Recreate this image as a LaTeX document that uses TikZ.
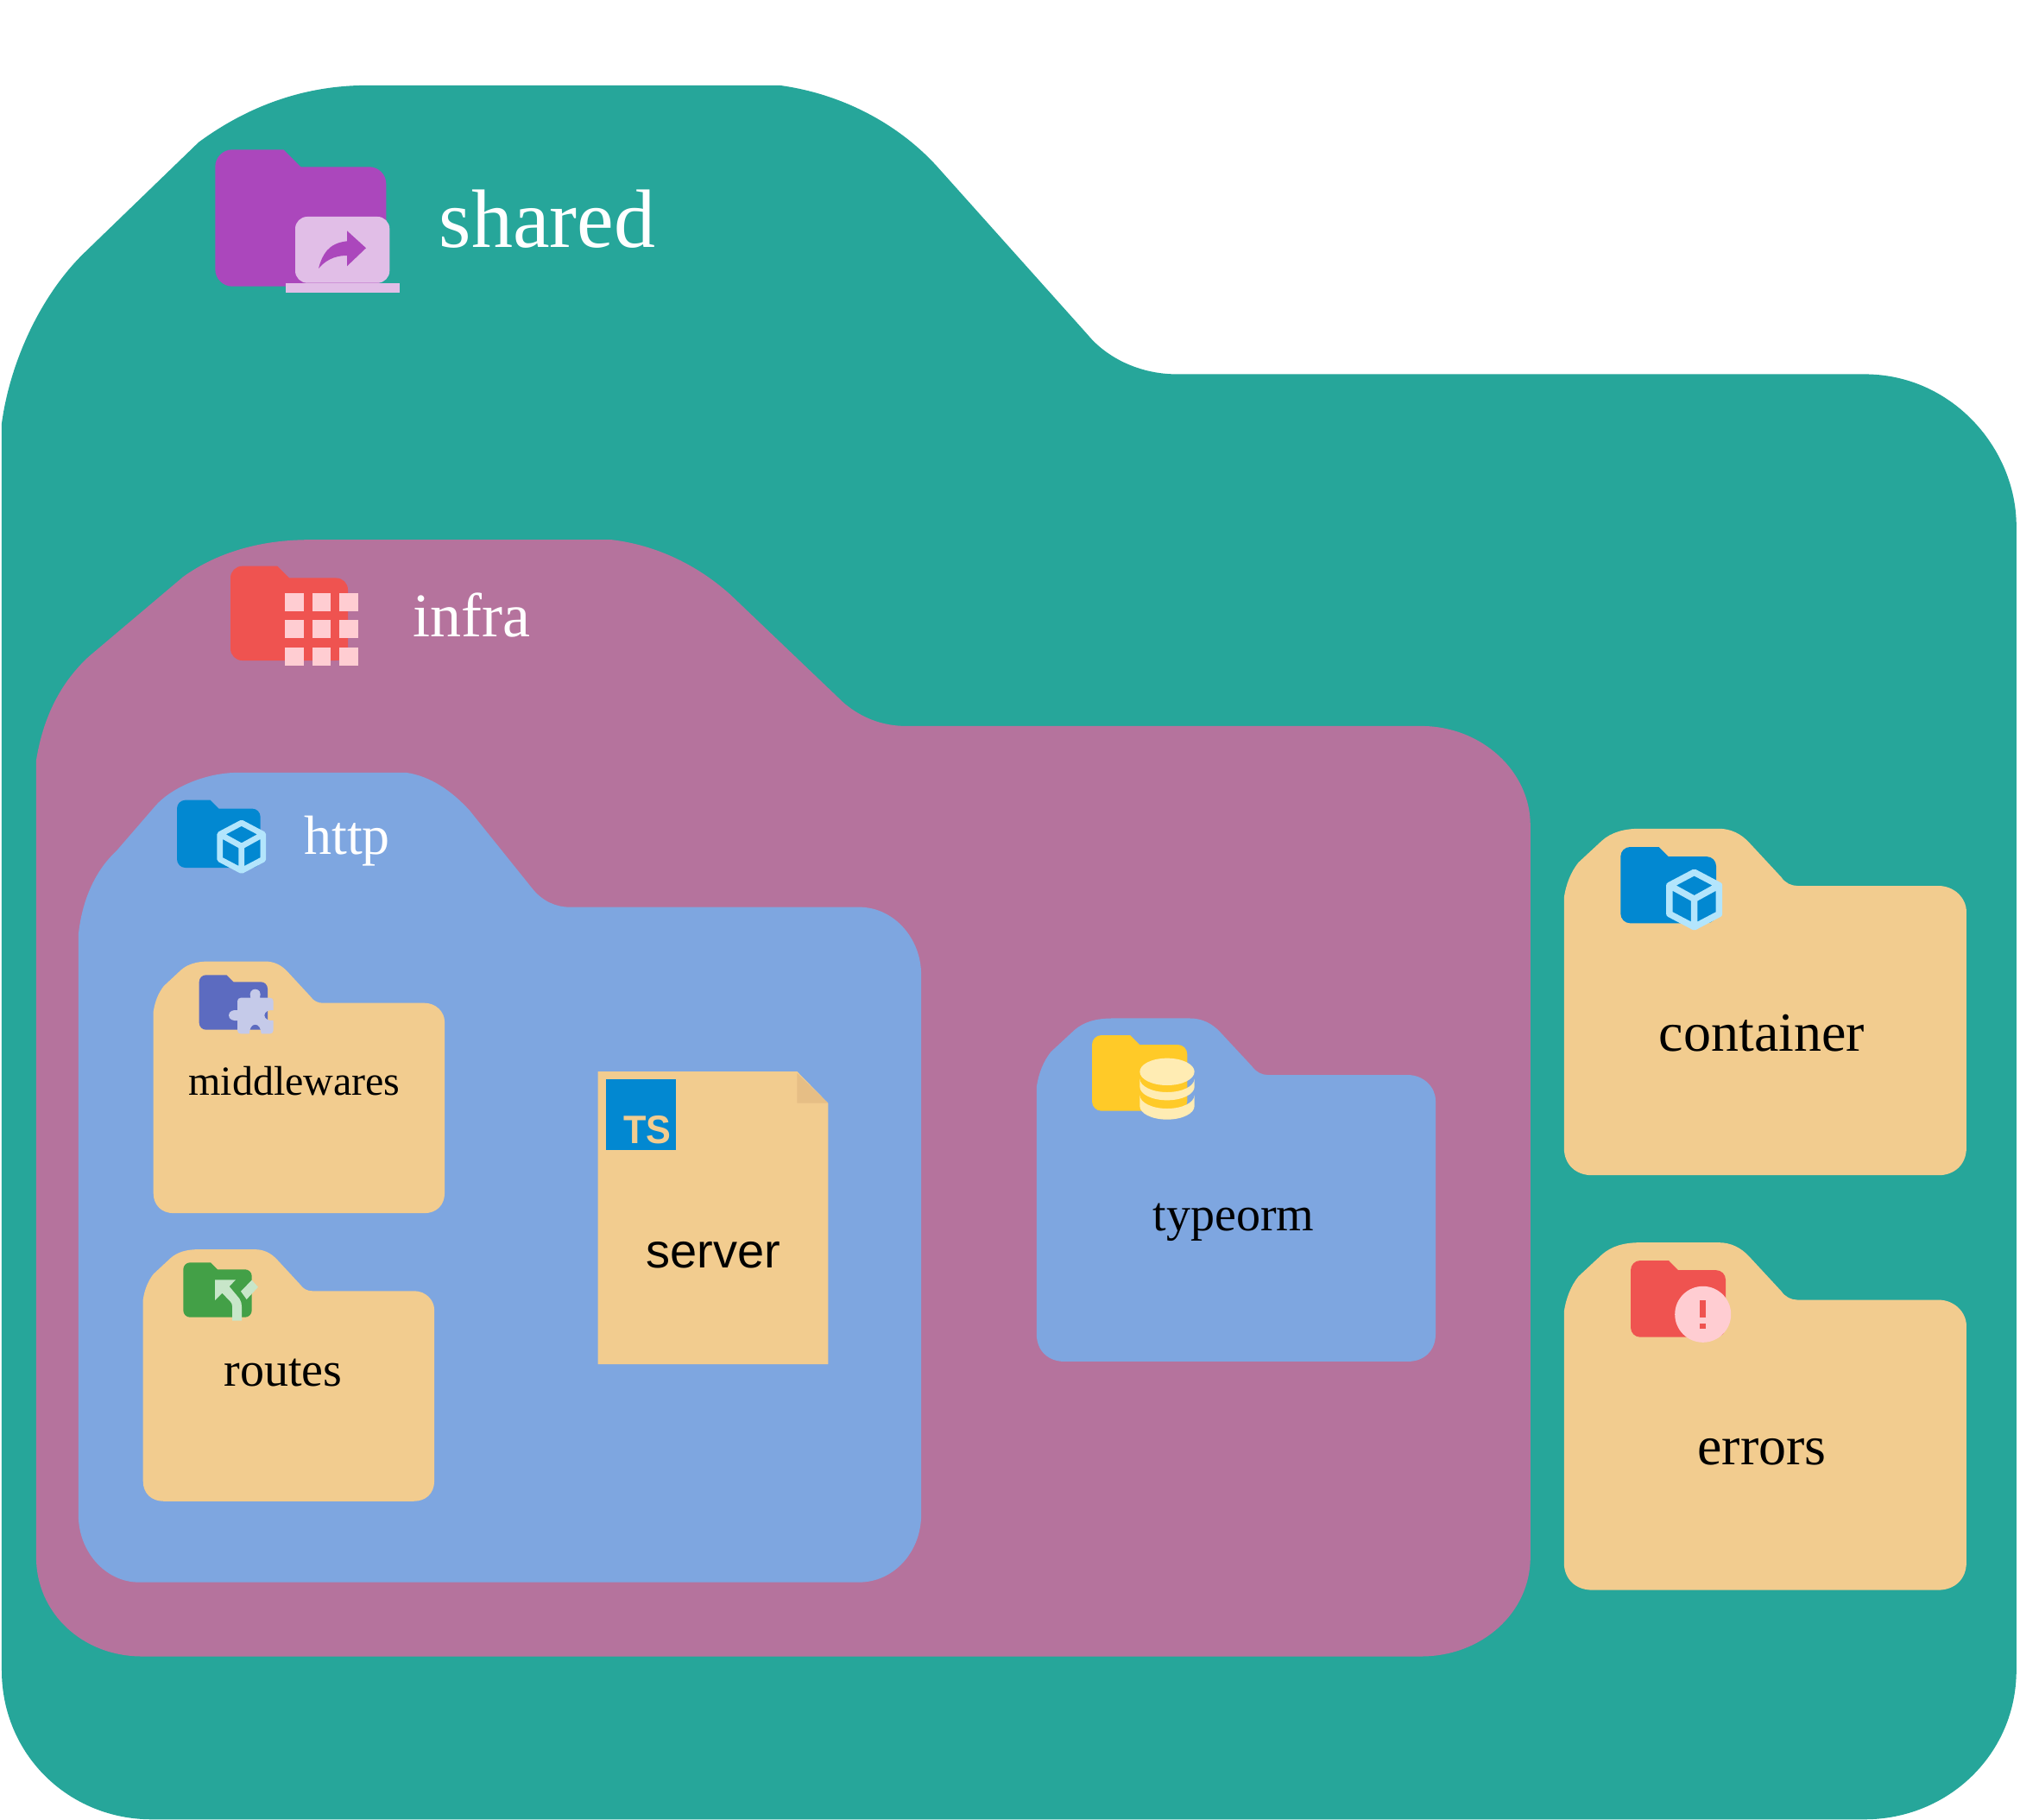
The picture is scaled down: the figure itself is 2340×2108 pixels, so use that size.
\documentclass[tikz,border=0pt]{standalone}
\usepackage{fontspec}
\setmainfont{Liberation Serif}
\newfontfamily\helv{Liberation Sans}
\definecolor{cshared}{HTML}{26A69A}
\definecolor{cinfra}{HTML}{B5739D}
\definecolor{chttp}{HTML}{7EA6E0}
\definecolor{ctan}{HTML}{F2CC8F}
\definecolor{cfold}{HTML}{E6BE85}
\definecolor{cpurple}{HTML}{AB47BC}
\definecolor{cpurplep}{HTML}{E1BEE7}
\definecolor{cred}{HTML}{EF5350}
\definecolor{credp}{HTML}{FFCDD2}
\definecolor{cblue}{HTML}{0288D1}
\definecolor{cbluep}{HTML}{B3E5FC}
\definecolor{cindigo}{HTML}{5C6BC0}
\definecolor{cindigop}{HTML}{C5CAE9}
\definecolor{cgreen}{HTML}{43A047}
\definecolor{cgreenp}{HTML}{C8E6C9}
\definecolor{cyel}{HTML}{FFCA28}
\definecolor{cyelp}{HTML}{FFECB3}
\tikzset{
  txt/.style={anchor=base,inner sep=0pt,outer sep=0pt,font=\fontsize{#1}{#1}\selectfont},
}
% folder shape normalised to 0..100
\newcommand{\tanfolder}[5]{%
  \fill[#5,shift={(#1,#2)},xscale=#3/100,yscale=#4/100]
    (0,20) .. controls (0.5,16) and (1.7,12.5) .. (3.6,9.75) -- (9.4,3.5)
    .. controls (11.8,1) and (15,0) .. (19,0) -- (38.4,0)
    .. controls (41.5,0) and (44,1.5) .. (46,4) -- (54,14)
    .. controls (55,15.7) and (56.5,16.5) .. (58,16.5) -- (93,16.5)
    .. controls (97,16.5) and (100,20) .. (100,24) -- (100,92)
    .. controls (100,97) and (97,100) .. (93,100) -- (7,100)
    .. controls (3,100) and (0,97) .. (0,92) -- cycle;}
% small icon folder
\newcommand{\iconfolder}[5]{%
  \fill[#5,shift={(#1,#2)},xscale=#3/100,yscale=#4/100]
    (0,12.6) .. controls (0,5.6) and (4.5,0) .. (10,0) -- (40,0) -- (50,12.6) -- (90,12.6)
    .. controls (95.5,12.6) and (100,18) .. (100,25) -- (100,87.4)
    .. controls (100,94.4) and (95.5,100) .. (90,100) -- (10,100)
    .. controls (4.5,100) and (0,94.4) .. (0,87.4) -- cycle;}
% cube icon: left top width height linewidth colour
\newcommand{\cubeicon}[6]{%
  \draw[#6,line width=#5*0.5pt,line join=round,shift={(#1,#2)},xscale=#3/100,yscale=#4/100]
    (50,6) -- (94,27) -- (94,73) -- (50,94) -- (6,73) -- (6,27) -- cycle
    (6,27) -- (50,49) -- (94,27) (50,49) -- (50,94);}
\begin{document}
\begin{tikzpicture}[x=0.5pt,y=-0.5pt]
\useasboundingbox (0,0) rectangle (2340,2108);
\fill[white] (0,0) rectangle (2340,2108);
\begin{scope}[xscale=0.9982,yscale=0.9987]
% shared
\fill[cshared] (2,491) .. controls (12,418) and (48,342) .. (97,294) -- (230.5,165)
  .. controls (285,125) and (350,99) .. (426,99) -- (905,99)
  .. controls (985,110) and (1050,150) .. (1091,197) -- (1263,389)
  .. controls (1283,413) and (1320,434) .. (1366,434) -- (2164,434)
  .. controls (2265,434) and (2340,520) .. (2340,610) -- (2340,1937)
  .. controls (2340,2035) and (2260,2110) .. (2164,2110) -- (176,2110)
  .. controls (80,2110) and (2,2035) .. (2,1937) -- cycle;
% infra
\fill[cinfra] (42,882) .. controls (50,832) and (70,792) .. (103,761.5) -- (212.5,669)
  .. controls (250,642) and (300,626) .. (359,626) -- (710,626)
  .. controls (760,632) and (808,654) .. (848,690) -- (979,815)
  .. controls (1000,833) and (1025,842) .. (1051,842) -- (1649,842)
  .. controls (1720,842) and (1776,895) .. (1776,957) -- (1776,1806)
  .. controls (1776,1870) and (1720,1921) .. (1649,1921) -- (165,1921)
  .. controls (95,1921) and (42,1870) .. (42,1806) -- cycle;
% http
\fill[chttp] (91,1084) .. controls (95,1045) and (110,1010) .. (135,987) -- (180,935)
  .. controls (196,916) and (235,896) .. (277,896) -- (471,896)
  .. controls (500,900) and (525,918) .. (545,940) -- (619,1032)
  .. controls (630,1045) and (645,1052) .. (661,1052) -- (997,1052)
  .. controls (1037,1052) and (1069,1088) .. (1069,1130) -- (1069,1757)
  .. controls (1069,1800) and (1037,1835) .. (997,1835) -- (161,1835)
  .. controls (123,1835) and (91,1800) .. (91,1757) -- cycle;
% inner folders
\tanfolder{178}{1115}{338}{292}{ctan}
\tanfolder{166}{1449}{338}{292}{ctan}
\tanfolder{1203}{1181}{463}{398}{chttp}
\tanfolder{1815}{961}{467}{402}{ctan}
\tanfolder{1815}{1441}{467}{403}{ctan}
\end{scope}
% server page
\fill[ctan] (692.7,1241) -- (923.3,1241) -- (959.3,1277.7) -- (959.3,1580) -- (692.7,1580) -- cycle;
\fill[cfold] (923.3,1243) -- (959.3,1277.7) -- (923.3,1277.7) -- cycle;
\fill[cblue] (701.7,1250) rectangle (783.3,1331.7);
\node[txt=23pt,text=ctan,anchor=base west,font=\helv\bfseries\fontsize{23}{23}\selectfont] (tsmark) at (722.5,1324.3) {\scalebox{.94}[1]{TS}};
% shared icon
\iconfolder{249.3}{173.3}{198}{158.4}{cpurple}
\fill[cpurplep,rounded corners=7pt] (342,251) rectangle (451.3,327.7);
\fill[cpurplep] (331,327.7) rectangle (462.7,338.7);
\fill[cpurple] (424,287.3) -- (402,267.3) -- (402,279.3)
  .. controls (380,281.7) and (373.3,295) .. (369,311)
  .. controls (380,298) and (393,296) .. (402,296) -- (402,308.3) -- cycle;
% infra icon
\iconfolder{267}{655.7}{136}{109.3}{cred}
\foreach \gx in {330.3,362,393.3}
  \foreach \gy in {687,718.3,750}
    \fill[credp] (\gx,\gy) rectangle ++(21.4,21);
% http icon
\iconfolder{205}{926.7}{96.7}{78.3}{cblue}
\cubeicon{251.3}{949.3}{57}{63}{6.7}{cbluep}
% middlewares icon
\iconfolder{230.7}{1129.3}{79.3}{63.4}{cindigo}
\begin{scope}[shift={(215,1110)},scale=1/3]
\fill[cindigop] (192,137) -- (226,137) .. controls (220,120) and (228,107) .. (242,107)
  .. controls (256,107) and (264,120) .. (258,137) -- (293,137)
  .. controls (300,137) and (305,142) .. (305,149) -- (305,180)
  .. controls (290,178) and (274,185) .. (274,198)
  .. controls (274,211) and (290,218) .. (305,216) -- (305,250)
  .. controls (305,257) and (300,262) .. (293,262) -- (263,262)
  .. controls (262,245) and (255,230) .. (242,230)
  .. controls (229,230) and (222,245) .. (221,262) -- (192,262)
  .. controls (185,262) and (180,257) .. (180,250) -- (180,216)
  .. controls (165,218) and (150,212) .. (150,198)
  .. controls (150,184) and (165,178) .. (180,180) -- (180,149)
  .. controls (180,142) and (185,137) .. (192,137) -- cycle;
\end{scope}
% routes icon
\iconfolder{212.3}{1462.3}{79.4}{63.4}{cgreen}
\begin{scope}[shift={(200,1450)},scale=1/3]
\fill[cgreenp] (147,97) -- (219,97) -- (197,120) -- (232,162)
  .. controls (238,170) and (240,180) .. (240,190) -- (240,239) -- (207,239) -- (207,188)
  .. controls (207,180) and (204,178) .. (200,172) -- (172,143) -- (147,168) -- cycle;
\fill[cgreenp] (275,98) -- (297,122) -- (257,165) -- (237,137) -- cycle;
\end{scope}
% typeorm icon
\iconfolder{1265}{1199}{110.3}{87.7}{cyel}
\begin{scope}[shift={(1250,1190)},scale=1/3]
\fill[cyelp] (211,154) .. controls (211,128) and (253,107) .. (306,107)
  .. controls (359,107) and (401,128) .. (401,154)
  .. controls (401,180) and (359,201) .. (306,201)
  .. controls (253,201) and (211,180) .. (211,154) -- cycle;
\fill[cyelp] (211,178) .. controls (211,204) and (253,225) .. (306,225)
  .. controls (359,225) and (401,204) .. (401,178) -- (401,206)
  .. controls (401,232) and (359,253) .. (306,253)
  .. controls (253,253) and (211,232) .. (211,206) -- cycle;
\fill[cyelp] (211,235) .. controls (211,261) and (253,282) .. (306,282)
  .. controls (359,282) and (401,261) .. (401,235) -- (401,273)
  .. controls (401,299) and (359,320) .. (306,320)
  .. controls (253,320) and (211,299) .. (211,273) -- cycle;
\end{scope}
% container icon
\iconfolder{1877.3}{981}{110.7}{88.3}{cblue}
\cubeicon{1930}{1006}{65.3}{72}{7.5}{cbluep}
% errors icon
\iconfolder{1889}{1460}{110}{88.7}{cred}
\fill[credp] (1972.7,1522.3) circle[radius=32.5];
\fill[cred] (1969,1506) rectangle (1976.3,1526);
\fill[cred] (1969,1532.7) rectangle (1976.3,1539);
% labels
\node[txt=48pt,text=white] (lshared) at (634,286) {shared};
\node[txt=36pt,text=white] (linfra) at (546,737) {infra};
\node[txt=32pt,text=white] (lhttp) at (402,989.5) {http};
\node[txt=24pt,text=black] (lmiddle) at (341,1268) {middlewares};
\node[txt=28pt,text=black] (lroutes) at (328,1605) {routes};
\node[txt=28pt,text=black,font=\helv\fontsize{28}{28}\selectfont] (lserver) at (826,1468.5) {server};
\node[txt=28pt,text=black] (ltype) at (1429,1425) {typeorm};
\node[txt=32pt,text=black] (lcont) at (2041,1217) {container};
\node[txt=32pt,text=black] (lerr) at (2041,1696.5) {errors};
\end{tikzpicture}
\end{document}
